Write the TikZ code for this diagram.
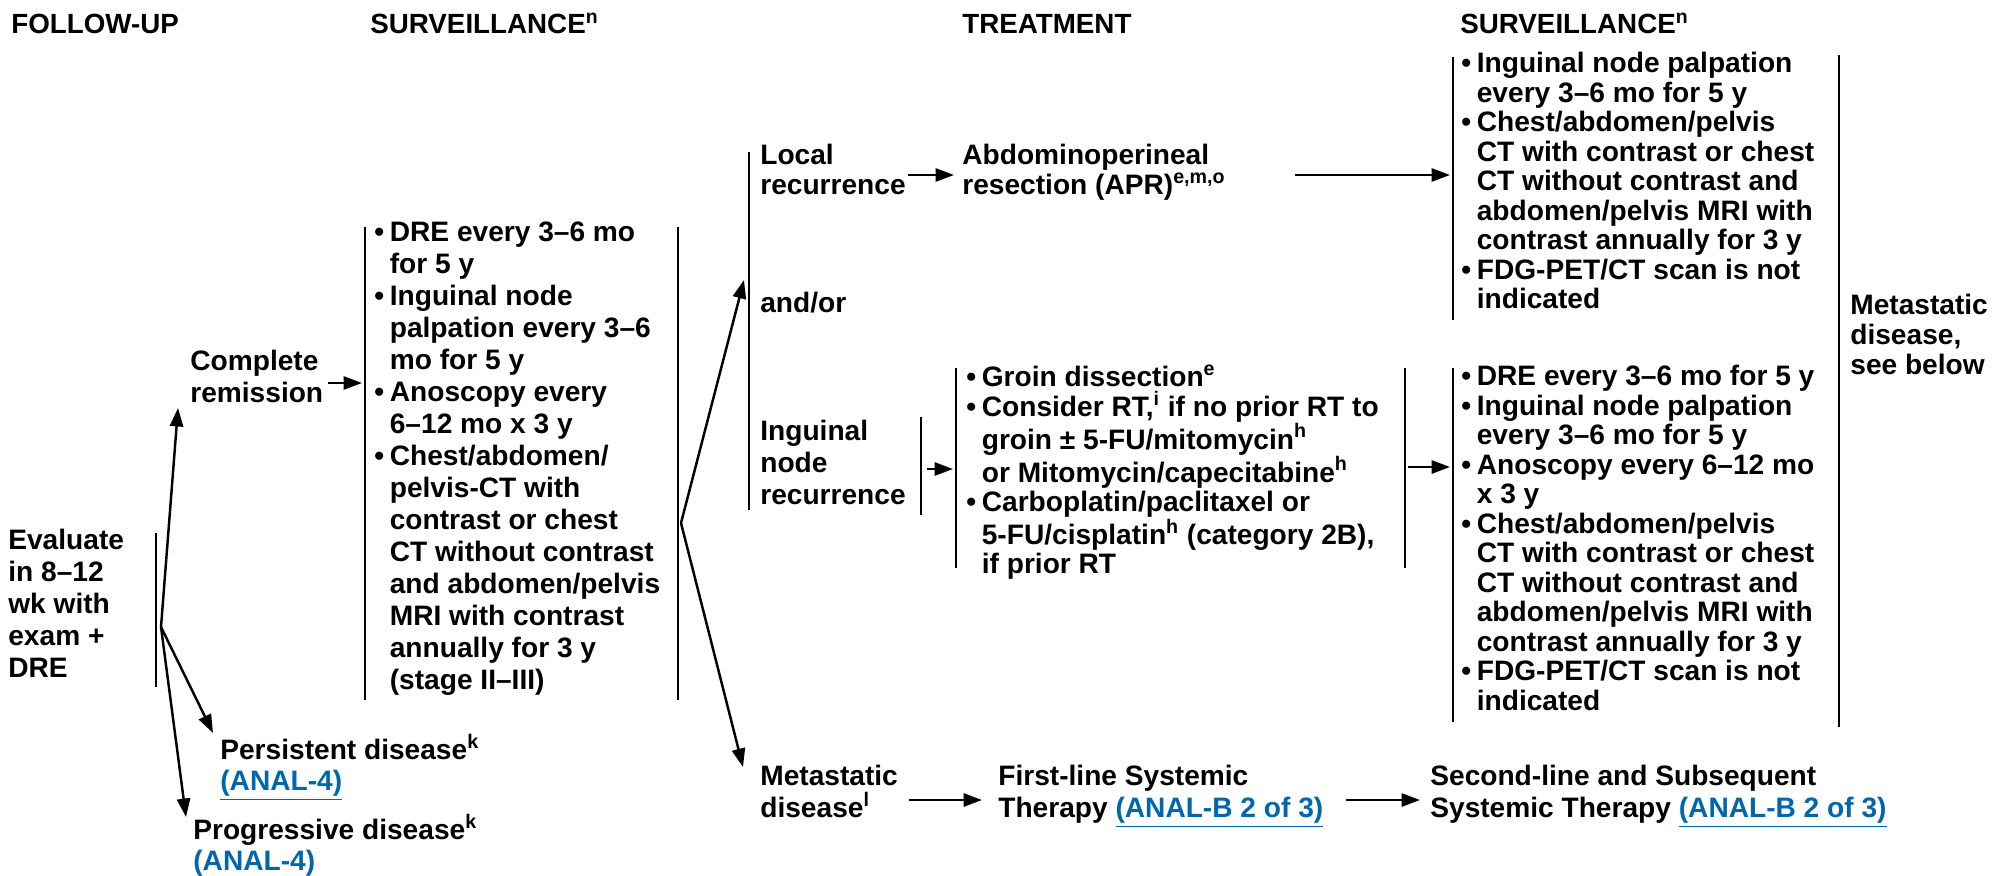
\documentclass[tikz,border=0pt]{standalone}
\usepackage{fontspec}
\setmainfont{Liberation Sans}
\usetikzlibrary{arrows.meta}
\definecolor{linkblue}{RGB}{0,103,172}
\newcommand{\lnk}[1]{\textcolor{linkblue}{\underline{#1}}}
\newcommand{\bul}{\makebox[0.31cm][l]{\textbullet}}
\newcommand{\ind}{\hspace*{0.31cm}}

\begin{document}
\begin{tikzpicture}[font=\fontsize{16}{18.2}\selectfont\bfseries,
  txt/.style={anchor=north west,inner sep=0pt,align=left,
    execute at begin node={\rule{0pt}{1em}}},
  tight/.style={txt,font=\fontsize{16}{17.1}\selectfont\bfseries},
  lst/.style={txt,font=\fontsize{16}{16.8}\selectfont\bfseries},
  hdr/.style={anchor=base west,inner sep=0pt,font=\fontsize{15.8}{18}\selectfont\bfseries},
  arr/.style={line width=1.4pt,-{Triangle[length=10.5pt,width=7.5pt]}},
  bar/.style={line width=1.4pt}]
\useasboundingbox (0,0) rectangle (39.94,-17.52);
% column heads
\node[hdr] (hfollow) at (0.22,-0.66) {FOLLOW-UP};
\node[hdr] (hsurv) at (7.40,-0.66) {SURVEILLANCE\textsuperscript{n}};
\node[hdr] (htreat) at (19.24,-0.66) {TREATMENT};
\node[hdr] (hsurvb) at (29.20,-0.66) {SURVEILLANCE\textsuperscript{n}};

% follow-up
\node[txt] (eval) at (0.16,-10.58) {Evaluate\\in 8--12\\wk with\\exam +\\DRE};
\draw[bar] (3.12,-10.66) -- (3.12,-13.74);
\coordinate (evfork) at (3.22,-12.54);
\node[txt] (crem) at (3.80,-7.00) {Complete\\remission};
\node[txt,font=\fontsize{16}{17.6}\selectfont\bfseries] (persist) at (4.40,-14.68)
  {Persistent disease\textsuperscript{k}\\\lnk{(ANAL-4)}};
\node[txt,font=\fontsize{16}{17.6}\selectfont\bfseries] (progr) at (3.86,-16.28)
  {Progressive disease\textsuperscript{k}\\\lnk{(ANAL-4)}};
\coordinate (cremin) at (3.56,-8.16);
\coordinate (persin) at (4.26,-14.66);
\coordinate (progin) at (3.72,-16.34);
\draw[arr] (evfork) -- (cremin);
\draw[arr] (evfork) -- (persin);
\draw[arr] (evfork) -- (progin);

% surveillance after remission
\node[txt] (survA) at (7.48,-4.44) {\bul DRE every 3--6 mo\\ \ind for 5 y\\
  \bul Inguinal node\\ \ind palpation every 3--6\\ \ind mo for 5 y\\
  \bul Anoscopy every\\ \ind 6--12 mo x 3 y\\ \bul Chest/abdomen/\\
  \ind pelvis-CT with\\ \ind contrast or chest\\ \ind CT without contrast\\
  \ind and abdomen/pelvis\\ \ind MRI with contrast\\ \ind annually for 3 y\\
  \ind (stage II--III)};
\draw[bar] (7.30,-4.54) -- (7.30,-14.00);
\draw[bar] (13.56,-4.54) -- (13.56,-14.00);
\coordinate (survAin) at (7.24,-7.66);
\coordinate (survAout) at (13.62,-10.46);
\draw[arr] (crem.east |- survAin) ++(0.08,0) -- (survAin);

% recurrence
\node[tight] (local) at (15.20,-2.88) {Local\\recurrence};
\node[txt] (andor) at (15.20,-5.68) {and/or};
\node[txt] (ingn) at (15.20,-8.40) {Inguinal\\node\\recurrence};
\node[txt] (metas) at (15.20,-15.30) {Metastatic\\disease\textsuperscript{l}};
\draw[bar] (14.98,-3.04) -- (14.98,-10.20);
\draw[bar] (18.42,-8.34) -- (18.42,-10.30);
\coordinate (recin) at (14.88,-5.60);
\coordinate (metin) at (14.86,-15.34);
\draw[arr] (survAout) -- (recin);
\draw[arr] (survAout) -- (metin);

% treatment
\node[tight] (apr) at (19.24,-2.88) {Abdominoperineal\\resection (APR)\textsuperscript{e,m,o}};
\node[lst,font=\fontsize{16}{16.6}\selectfont\bfseries] (groin) at (19.32,-7.30)
  {\bul Groin dissection\textsuperscript{e}\\
  \bul Consider RT,\textsuperscript{i} if no prior RT to\\
  \ind groin ± 5-FU/mitomycin\textsuperscript{h}\\
  \ind or Mitomycin/capecitabine\textsuperscript{h}\\
  \bul Carboplatin/paclitaxel or\\
  \ind 5-FU/cisplatin\textsuperscript{h} (category 2B),\\
  \ind if prior RT};
\draw[bar] (19.12,-7.36) -- (19.12,-11.36);
\draw[bar] (28.10,-7.36) -- (28.10,-11.36);
\node[txt] (first) at (19.96,-15.30) {First-line Systemic\\Therapy \lnk{(ANAL-B 2 of 3)}};
\coordinate (aprin) at (19.08,-3.50);
\coordinate (groinin) at (19.06,-9.38);
\draw[arr] (18.16,-3.50) coordinate (localout) -- (aprin);
\draw[arr] (18.54,-9.38) coordinate (ingout) -- (groinin);
\draw[arr] (18.18,-16.00) coordinate (metout) -- (19.64,-16.00) coordinate (firstin);

% surveillance after treatment
\node[lst] (survB) at (29.22,-1.04) {\bul Inguinal node palpation\\
  \ind every 3--6 mo for 5 y\\ \bul Chest/abdomen/pelvis\\
  \ind CT with contrast or chest\\ \ind CT without contrast and\\
  \ind abdomen/pelvis MRI with\\ \ind contrast annually for 3 y\\
  \bul FDG-PET/CT scan is not\\ \ind indicated};
\node[lst] (survC) at (29.22,-7.30) {\bul DRE every 3--6 mo for 5 y\\
  \bul Inguinal node palpation\\ \ind every 3--6 mo for 5 y\\
  \bul Anoscopy every 6--12 mo\\ \ind x 3 y\\ \bul Chest/abdomen/pelvis\\
  \ind CT with contrast or chest\\ \ind CT without contrast and\\
  \ind abdomen/pelvis MRI with\\ \ind contrast annually for 3 y\\
  \bul FDG-PET/CT scan is not\\ \ind indicated};
\draw[bar] (29.06,-1.14) -- (29.06,-6.40);
\draw[bar] (29.06,-7.36) -- (29.06,-14.44);
\draw[bar] (36.78,-1.10) -- (36.78,-14.54);
\node[tight] (seebelow) at (37.00,-5.88) {Metastatic\\disease,\\see below};
\coordinate (survBin) at (29.00,-3.50);
\coordinate (survCin) at (29.00,-9.34);
\draw[arr] (25.90,-3.50) coordinate (aprout) -- (survBin);
\draw[arr] (28.16,-9.34) coordinate (groinout) -- (survCin);
\node[txt] (second) at (28.60,-15.30) {Second-line and Subsequent\\Systemic Therapy \lnk{(ANAL-B 2 of 3)}};
\draw[arr] (26.92,-16.00) coordinate (firstout) -- (28.40,-16.00) coordinate (secondin);
\end{tikzpicture}
\end{document}
